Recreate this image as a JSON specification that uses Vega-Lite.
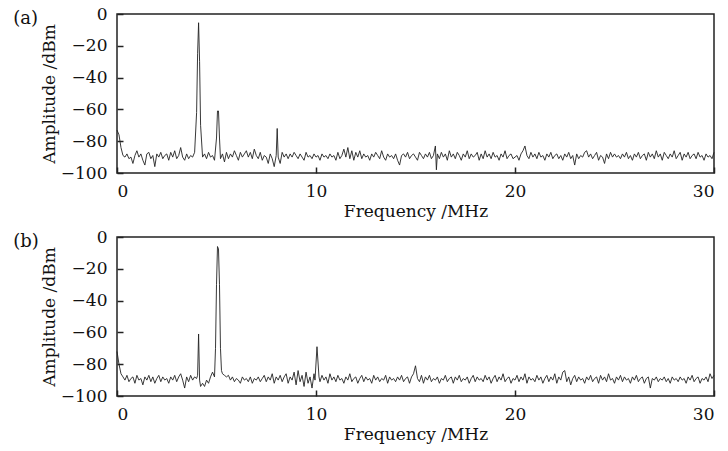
{
  "$schema": "https://vega.github.io/schema/vega-lite/v6.json",
  "background": "white",
  "padding": {"left": 12, "top": 4, "right": 5, "bottom": 5},
  "spacing": 7,
  "config": {
    "font": "DejaVu Serif",
    "view": {"stroke": "#222", "strokeWidth": 1.5},
    "axis": {
      "domain": false,
      "grid": false,
      "ticks": true,
      "tickSize": -6,
      "tickColor": "#222",
      "tickWidth": 1.5,
      "labelFont": "DejaVu Serif",
      "labelFontSize": 17,
      "labelColor": "#111",
      "titleFont": "DejaVu Serif",
      "titleFontSize": 17,
      "titleFontWeight": "normal",
      "titleColor": "#111"
    },
    "title": {"font": "DejaVu Serif", "fontSize": 18, "fontWeight": "normal", "color": "#111"}
  },
  "datasets": {
    "a": [
      {"f":0.0,"a":-73},{"f":0.1,"a":-76},{"f":0.2,"a":-84},{"f":0.3,"a":-89},{"f":0.4,"a":-90},{"f":0.5,"a":-88},{"f":0.6,"a":-91},{"f":0.7,"a":-90},{"f":0.8,"a":-94},{"f":0.9,"a":-89},
      {"f":1.0,"a":-86},{"f":1.1,"a":-90},{"f":1.2,"a":-88},{"f":1.3,"a":-92},{"f":1.4,"a":-95},{"f":1.5,"a":-88},{"f":1.6,"a":-87},{"f":1.7,"a":-91},{"f":1.8,"a":-89},{"f":1.9,"a":-96},
      {"f":2.0,"a":-88},{"f":2.1,"a":-90},{"f":2.2,"a":-87},{"f":2.3,"a":-91},{"f":2.4,"a":-89},{"f":2.5,"a":-88},{"f":2.6,"a":-92},{"f":2.7,"a":-87},{"f":2.8,"a":-90},{"f":2.9,"a":-86},
      {"f":3.0,"a":-91},{"f":3.1,"a":-89},{"f":3.2,"a":-84},{"f":3.3,"a":-90},{"f":3.4,"a":-92},{"f":3.5,"a":-88},{"f":3.6,"a":-91},{"f":3.7,"a":-89},{"f":3.8,"a":-90},{"f":3.9,"a":-87},
      {"f":4.0,"a":-62},{"f":4.05,"a":-25},{"f":4.1,"a":-5.5},{"f":4.15,"a":-30},{"f":4.2,"a":-70},{"f":4.3,"a":-90},{"f":4.4,"a":-88},{"f":4.5,"a":-91},{"f":4.6,"a":-87},{"f":4.7,"a":-90},{"f":4.8,"a":-89},{"f":4.9,"a":-92},
      {"f":5.0,"a":-78},{"f":5.05,"a":-61},{"f":5.1,"a":-61},{"f":5.15,"a":-78},{"f":5.2,"a":-91},{"f":5.3,"a":-88},{"f":5.4,"a":-93},{"f":5.5,"a":-87},{"f":5.6,"a":-91},{"f":5.7,"a":-88},{"f":5.8,"a":-90},{"f":5.9,"a":-86},
      {"f":6.0,"a":-89},{"f":6.1,"a":-92},{"f":6.2,"a":-87},{"f":6.3,"a":-90},{"f":6.4,"a":-88},{"f":6.5,"a":-86},{"f":6.6,"a":-90},{"f":6.7,"a":-87},{"f":6.8,"a":-91},{"f":6.9,"a":-85},
      {"f":7.0,"a":-89},{"f":7.1,"a":-91},{"f":7.2,"a":-87},{"f":7.3,"a":-92},{"f":7.4,"a":-89},{"f":7.5,"a":-90},{"f":7.6,"a":-94},{"f":7.7,"a":-88},{"f":7.8,"a":-91},{"f":7.9,"a":-96},
      {"f":8.0,"a":-89},{"f":8.05,"a":-72},{"f":8.1,"a":-90},{"f":8.2,"a":-94},{"f":8.3,"a":-87},{"f":8.4,"a":-90},{"f":8.5,"a":-88},{"f":8.6,"a":-91},{"f":8.7,"a":-88},{"f":8.8,"a":-90},{"f":8.9,"a":-87},
      {"f":9.0,"a":-89},{"f":9.1,"a":-91},{"f":9.2,"a":-88},{"f":9.3,"a":-90},{"f":9.4,"a":-92},{"f":9.5,"a":-87},{"f":9.6,"a":-90},{"f":9.7,"a":-89},{"f":9.8,"a":-91},{"f":9.9,"a":-88},
      {"f":10.0,"a":-90},{"f":10.1,"a":-89},{"f":10.2,"a":-92},{"f":10.3,"a":-88},{"f":10.4,"a":-90},{"f":10.5,"a":-89},{"f":10.6,"a":-91},{"f":10.7,"a":-88},{"f":10.8,"a":-90},{"f":10.9,"a":-89},
      {"f":11.0,"a":-92},{"f":11.1,"a":-87},{"f":11.2,"a":-91},{"f":11.3,"a":-89},{"f":11.4,"a":-85},{"f":11.5,"a":-90},{"f":11.6,"a":-84},{"f":11.7,"a":-91},{"f":11.8,"a":-86},{"f":11.9,"a":-92},
      {"f":12.0,"a":-87},{"f":12.1,"a":-90},{"f":12.2,"a":-86},{"f":12.3,"a":-91},{"f":12.4,"a":-88},{"f":12.5,"a":-90},{"f":12.6,"a":-89},{"f":12.7,"a":-92},{"f":12.8,"a":-88},{"f":12.9,"a":-90},
      {"f":13.0,"a":-87},{"f":13.1,"a":-89},{"f":13.2,"a":-91},{"f":13.3,"a":-86},{"f":13.4,"a":-90},{"f":13.5,"a":-92},{"f":13.6,"a":-88},{"f":13.7,"a":-90},{"f":13.8,"a":-89},{"f":13.9,"a":-91},
      {"f":14.0,"a":-88},{"f":14.1,"a":-92},{"f":14.2,"a":-95},{"f":14.3,"a":-89},{"f":14.4,"a":-88},{"f":14.5,"a":-90},{"f":14.6,"a":-87},{"f":14.7,"a":-91},{"f":14.8,"a":-89},{"f":14.9,"a":-88},
      {"f":15.0,"a":-90},{"f":15.1,"a":-92},{"f":15.2,"a":-87},{"f":15.3,"a":-89},{"f":15.4,"a":-91},{"f":15.5,"a":-88},{"f":15.6,"a":-90},{"f":15.7,"a":-87},{"f":15.8,"a":-91},{"f":15.9,"a":-89},
      {"f":16.0,"a":-83},{"f":16.05,"a":-98},{"f":16.1,"a":-88},{"f":16.2,"a":-91},{"f":16.3,"a":-87},{"f":16.4,"a":-90},{"f":16.5,"a":-88},{"f":16.6,"a":-92},{"f":16.7,"a":-86},{"f":16.8,"a":-90},{"f":16.9,"a":-88},
      {"f":17.0,"a":-91},{"f":17.1,"a":-87},{"f":17.2,"a":-89},{"f":17.3,"a":-92},{"f":17.4,"a":-88},{"f":17.5,"a":-90},{"f":17.6,"a":-86},{"f":17.7,"a":-91},{"f":17.8,"a":-88},{"f":17.9,"a":-90},
      {"f":18.0,"a":-89},{"f":18.1,"a":-87},{"f":18.2,"a":-92},{"f":18.3,"a":-88},{"f":18.4,"a":-91},{"f":18.5,"a":-86},{"f":18.6,"a":-90},{"f":18.7,"a":-88},{"f":18.8,"a":-91},{"f":18.9,"a":-87},
      {"f":19.0,"a":-90},{"f":19.1,"a":-89},{"f":19.2,"a":-92},{"f":19.3,"a":-88},{"f":19.4,"a":-90},{"f":19.5,"a":-86},{"f":19.6,"a":-91},{"f":19.7,"a":-89},{"f":19.8,"a":-88},{"f":19.9,"a":-91},
      {"f":20.0,"a":-90},{"f":20.1,"a":-89},{"f":20.2,"a":-92},{"f":20.3,"a":-88},{"f":20.4,"a":-86},{"f":20.5,"a":-83},{"f":20.6,"a":-89},{"f":20.7,"a":-91},{"f":20.8,"a":-87},{"f":20.9,"a":-90},
      {"f":21.0,"a":-88},{"f":21.1,"a":-91},{"f":21.2,"a":-87},{"f":21.3,"a":-90},{"f":21.4,"a":-89},{"f":21.5,"a":-92},{"f":21.6,"a":-88},{"f":21.7,"a":-90},{"f":21.8,"a":-87},{"f":21.9,"a":-91},
      {"f":22.0,"a":-89},{"f":22.1,"a":-88},{"f":22.2,"a":-91},{"f":22.3,"a":-89},{"f":22.4,"a":-92},{"f":22.5,"a":-88},{"f":22.6,"a":-90},{"f":22.7,"a":-87},{"f":22.8,"a":-91},{"f":22.9,"a":-89},
      {"f":23.0,"a":-95},{"f":23.1,"a":-88},{"f":23.2,"a":-91},{"f":23.3,"a":-89},{"f":23.4,"a":-90},{"f":23.5,"a":-87},{"f":23.6,"a":-86},{"f":23.7,"a":-90},{"f":23.8,"a":-88},{"f":23.9,"a":-91},
      {"f":24.0,"a":-89},{"f":24.1,"a":-87},{"f":24.2,"a":-92},{"f":24.3,"a":-89},{"f":24.4,"a":-90},{"f":24.5,"a":-94},{"f":24.6,"a":-88},{"f":24.7,"a":-91},{"f":24.8,"a":-87},{"f":24.9,"a":-90},
      {"f":25.0,"a":-88},{"f":25.1,"a":-90},{"f":25.2,"a":-89},{"f":25.3,"a":-91},{"f":25.4,"a":-88},{"f":25.5,"a":-90},{"f":25.6,"a":-87},{"f":25.7,"a":-91},{"f":25.8,"a":-89},{"f":25.9,"a":-92},
      {"f":26.0,"a":-88},{"f":26.1,"a":-90},{"f":26.2,"a":-87},{"f":26.3,"a":-91},{"f":26.4,"a":-89},{"f":26.5,"a":-88},{"f":26.6,"a":-92},{"f":26.7,"a":-87},{"f":26.8,"a":-90},{"f":26.9,"a":-88},
      {"f":27.0,"a":-91},{"f":27.1,"a":-86},{"f":27.2,"a":-90},{"f":27.3,"a":-88},{"f":27.4,"a":-92},{"f":27.5,"a":-87},{"f":27.6,"a":-89},{"f":27.7,"a":-91},{"f":27.8,"a":-88},{"f":27.9,"a":-90},
      {"f":28.0,"a":-86},{"f":28.1,"a":-91},{"f":28.2,"a":-89},{"f":28.3,"a":-87},{"f":28.4,"a":-92},{"f":28.5,"a":-88},{"f":28.6,"a":-90},{"f":28.7,"a":-87},{"f":28.8,"a":-91},{"f":28.9,"a":-89},
      {"f":29.0,"a":-88},{"f":29.1,"a":-91},{"f":29.2,"a":-87},{"f":29.3,"a":-90},{"f":29.4,"a":-89},{"f":29.5,"a":-92},{"f":29.6,"a":-88},{"f":29.7,"a":-90},{"f":29.8,"a":-89},{"f":29.9,"a":-91},
      {"f":30.0,"a":-87}
    ],
    "b": [
      {"f":0.0,"a":-72},{"f":0.1,"a":-80},{"f":0.2,"a":-86},{"f":0.3,"a":-88},{"f":0.4,"a":-90},{"f":0.5,"a":-87},{"f":0.6,"a":-91},{"f":0.7,"a":-89},{"f":0.8,"a":-88},{"f":0.9,"a":-92},
      {"f":1.0,"a":-87},{"f":1.1,"a":-90},{"f":1.2,"a":-89},{"f":1.3,"a":-93},{"f":1.4,"a":-88},{"f":1.5,"a":-90},{"f":1.6,"a":-87},{"f":1.7,"a":-91},{"f":1.8,"a":-88},{"f":1.9,"a":-92},
      {"f":2.0,"a":-89},{"f":2.1,"a":-87},{"f":2.2,"a":-91},{"f":2.3,"a":-88},{"f":2.4,"a":-90},{"f":2.5,"a":-89},{"f":2.6,"a":-92},{"f":2.7,"a":-88},{"f":2.8,"a":-90},{"f":2.9,"a":-87},
      {"f":3.0,"a":-91},{"f":3.1,"a":-88},{"f":3.2,"a":-86},{"f":3.3,"a":-90},{"f":3.4,"a":-95},{"f":3.5,"a":-88},{"f":3.6,"a":-91},{"f":3.7,"a":-87},{"f":3.8,"a":-90},{"f":3.9,"a":-88},
      {"f":4.0,"a":-89},{"f":4.05,"a":-87},{"f":4.1,"a":-61},{"f":4.15,"a":-90},{"f":4.2,"a":-94},{"f":4.3,"a":-92},{"f":4.4,"a":-94},{"f":4.5,"a":-90},{"f":4.6,"a":-92},{"f":4.7,"a":-88},{"f":4.8,"a":-85},{"f":4.9,"a":-88},
      {"f":4.95,"a":-70},{"f":5.0,"a":-30},{"f":5.05,"a":-6},{"f":5.1,"a":-7.5},{"f":5.15,"a":-30},{"f":5.2,"a":-70},{"f":5.25,"a":-84},{"f":5.3,"a":-86},{"f":5.4,"a":-87},{"f":5.5,"a":-88},{"f":5.6,"a":-87},{"f":5.7,"a":-90},{"f":5.8,"a":-88},{"f":5.9,"a":-91},
      {"f":6.0,"a":-89},{"f":6.1,"a":-90},{"f":6.2,"a":-92},{"f":6.3,"a":-88},{"f":6.4,"a":-90},{"f":6.5,"a":-89},{"f":6.6,"a":-91},{"f":6.7,"a":-88},{"f":6.8,"a":-92},{"f":6.9,"a":-89},
      {"f":7.0,"a":-90},{"f":7.1,"a":-88},{"f":7.2,"a":-91},{"f":7.3,"a":-89},{"f":7.4,"a":-87},{"f":7.5,"a":-91},{"f":7.6,"a":-88},{"f":7.7,"a":-90},{"f":7.8,"a":-86},{"f":7.9,"a":-92},
      {"f":8.0,"a":-88},{"f":8.1,"a":-90},{"f":8.2,"a":-87},{"f":8.3,"a":-91},{"f":8.4,"a":-88},{"f":8.5,"a":-86},{"f":8.6,"a":-92},{"f":8.7,"a":-88},{"f":8.8,"a":-90},{"f":8.9,"a":-85},
      {"f":9.0,"a":-93},{"f":9.1,"a":-84},{"f":9.2,"a":-91},{"f":9.3,"a":-87},{"f":9.4,"a":-94},{"f":9.5,"a":-85},{"f":9.6,"a":-92},{"f":9.7,"a":-88},{"f":9.8,"a":-95},{"f":9.9,"a":-86},
      {"f":9.95,"a":-90},{"f":10.05,"a":-69},{"f":10.15,"a":-88},{"f":10.2,"a":-91},{"f":10.3,"a":-87},{"f":10.4,"a":-90},{"f":10.5,"a":-88},{"f":10.6,"a":-92},{"f":10.7,"a":-86},{"f":10.8,"a":-90},{"f":10.9,"a":-88},
      {"f":11.0,"a":-91},{"f":11.1,"a":-87},{"f":11.2,"a":-90},{"f":11.3,"a":-89},{"f":11.4,"a":-92},{"f":11.5,"a":-88},{"f":11.6,"a":-90},{"f":11.7,"a":-86},{"f":11.8,"a":-91},{"f":11.9,"a":-89},
      {"f":12.0,"a":-88},{"f":12.1,"a":-92},{"f":12.2,"a":-89},{"f":12.3,"a":-87},{"f":12.4,"a":-91},{"f":12.5,"a":-88},{"f":12.6,"a":-90},{"f":12.7,"a":-89},{"f":12.8,"a":-92},{"f":12.9,"a":-87},
      {"f":13.0,"a":-90},{"f":13.1,"a":-88},{"f":13.2,"a":-91},{"f":13.3,"a":-89},{"f":13.4,"a":-90},{"f":13.5,"a":-87},{"f":13.6,"a":-92},{"f":13.7,"a":-88},{"f":13.8,"a":-90},{"f":13.9,"a":-89},
      {"f":14.0,"a":-91},{"f":14.1,"a":-88},{"f":14.2,"a":-90},{"f":14.3,"a":-87},{"f":14.4,"a":-91},{"f":14.5,"a":-89},{"f":14.6,"a":-88},{"f":14.7,"a":-92},{"f":14.8,"a":-88},{"f":14.9,"a":-86},
      {"f":15.0,"a":-81},{"f":15.1,"a":-89},{"f":15.2,"a":-91},{"f":15.3,"a":-87},{"f":15.4,"a":-92},{"f":15.5,"a":-88},{"f":15.6,"a":-90},{"f":15.7,"a":-87},{"f":15.8,"a":-91},{"f":15.9,"a":-89},
      {"f":16.0,"a":-90},{"f":16.1,"a":-88},{"f":16.2,"a":-92},{"f":16.3,"a":-89},{"f":16.4,"a":-90},{"f":16.5,"a":-87},{"f":16.6,"a":-91},{"f":16.7,"a":-89},{"f":16.8,"a":-88},{"f":16.9,"a":-92},
      {"f":17.0,"a":-88},{"f":17.1,"a":-90},{"f":17.2,"a":-87},{"f":17.3,"a":-91},{"f":17.4,"a":-89},{"f":17.5,"a":-90},{"f":17.6,"a":-88},{"f":17.7,"a":-92},{"f":17.8,"a":-89},{"f":17.9,"a":-87},
      {"f":18.0,"a":-91},{"f":18.1,"a":-88},{"f":18.2,"a":-90},{"f":18.3,"a":-89},{"f":18.4,"a":-91},{"f":18.5,"a":-87},{"f":18.6,"a":-90},{"f":18.7,"a":-88},{"f":18.8,"a":-92},{"f":18.9,"a":-89},
      {"f":19.0,"a":-87},{"f":19.1,"a":-91},{"f":19.2,"a":-88},{"f":19.3,"a":-90},{"f":19.4,"a":-86},{"f":19.5,"a":-91},{"f":19.6,"a":-89},{"f":19.7,"a":-88},{"f":19.8,"a":-92},{"f":19.9,"a":-89},
      {"f":20.0,"a":-90},{"f":20.1,"a":-87},{"f":20.2,"a":-91},{"f":20.3,"a":-88},{"f":20.4,"a":-90},{"f":20.5,"a":-86},{"f":20.6,"a":-92},{"f":20.7,"a":-88},{"f":20.8,"a":-90},{"f":20.9,"a":-89},
      {"f":21.0,"a":-91},{"f":21.1,"a":-87},{"f":21.2,"a":-90},{"f":21.3,"a":-88},{"f":21.4,"a":-92},{"f":21.5,"a":-89},{"f":21.6,"a":-87},{"f":21.7,"a":-91},{"f":21.8,"a":-88},{"f":21.9,"a":-90},
      {"f":22.0,"a":-86},{"f":22.1,"a":-92},{"f":22.2,"a":-88},{"f":22.3,"a":-90},{"f":22.4,"a":-85},{"f":22.5,"a":-84},{"f":22.6,"a":-91},{"f":22.7,"a":-88},{"f":22.8,"a":-93},{"f":22.9,"a":-89},
      {"f":23.0,"a":-87},{"f":23.1,"a":-91},{"f":23.2,"a":-88},{"f":23.3,"a":-90},{"f":23.4,"a":-89},{"f":23.5,"a":-92},{"f":23.6,"a":-88},{"f":23.7,"a":-90},{"f":23.8,"a":-87},{"f":23.9,"a":-91},
      {"f":24.0,"a":-89},{"f":24.1,"a":-88},{"f":24.2,"a":-92},{"f":24.3,"a":-87},{"f":24.4,"a":-90},{"f":24.5,"a":-88},{"f":24.6,"a":-91},{"f":24.7,"a":-86},{"f":24.8,"a":-90},{"f":24.9,"a":-89},
      {"f":25.0,"a":-92},{"f":25.1,"a":-88},{"f":25.2,"a":-90},{"f":25.3,"a":-87},{"f":25.4,"a":-91},{"f":25.5,"a":-88},{"f":25.6,"a":-90},{"f":25.7,"a":-89},{"f":25.8,"a":-92},{"f":25.9,"a":-88},
      {"f":26.0,"a":-90},{"f":26.1,"a":-87},{"f":26.2,"a":-91},{"f":26.3,"a":-89},{"f":26.4,"a":-88},{"f":26.5,"a":-92},{"f":26.6,"a":-89},{"f":26.7,"a":-88},{"f":26.8,"a":-95},{"f":26.9,"a":-89},
      {"f":27.0,"a":-90},{"f":27.1,"a":-88},{"f":27.2,"a":-91},{"f":27.3,"a":-89},{"f":27.4,"a":-90},{"f":27.5,"a":-88},{"f":27.6,"a":-91},{"f":27.7,"a":-89},{"f":27.8,"a":-92},{"f":27.9,"a":-88},
      {"f":28.0,"a":-90},{"f":28.1,"a":-89},{"f":28.2,"a":-91},{"f":28.3,"a":-88},{"f":28.4,"a":-90},{"f":28.5,"a":-89},{"f":28.6,"a":-92},{"f":28.7,"a":-88},{"f":28.8,"a":-90},{"f":28.9,"a":-87},
      {"f":29.0,"a":-91},{"f":29.1,"a":-89},{"f":29.2,"a":-88},{"f":29.3,"a":-92},{"f":29.4,"a":-89},{"f":29.5,"a":-90},{"f":29.6,"a":-88},{"f":29.7,"a":-91},{"f":29.8,"a":-86},{"f":29.9,"a":-89},
      {"f":30.0,"a":-87}
    ]
  },
  "vconcat": [
    {
      "width": 597,
      "height": 159,
      "data": {"name": "a"},
      "title": {"text": "(a)", "anchor": "start", "frame": "bounds", "orient": "top", "dx": -27, "dy": 23, "offset": 0},
      "mark": {"type": "line", "color": "#222", "strokeWidth": 0.9},
      "encoding": {
        "x": {"field": "f", "type": "quantitative", "scale": {"domain": [0, 30]},
              "axis": {"title": "Frequency /MHz", "values": [0, 10, 20, 30], "labelPadding": 16, "titlePadding": 4}},
        "y": {"field": "a", "type": "quantitative", "scale": {"domain": [-100, 0]},
              "axis": {"title": "Amplitude /dBm", "values": [-100, -80, -60, -40, -20, 0], "labelPadding": 16, "titlePadding": 2}}
      }
    },
    {
      "width": 597,
      "height": 159,
      "data": {"name": "b"},
      "title": {"text": "(b)", "anchor": "start", "frame": "bounds", "orient": "top", "dx": -27, "dy": 23, "offset": 0},
      "mark": {"type": "line", "color": "#222", "strokeWidth": 0.9},
      "encoding": {
        "x": {"field": "f", "type": "quantitative", "scale": {"domain": [0, 30]},
              "axis": {"title": "Frequency /MHz", "values": [0, 10, 20, 30], "labelPadding": 16, "titlePadding": 4}},
        "y": {"field": "a", "type": "quantitative", "scale": {"domain": [-100, 0]},
              "axis": {"title": "Amplitude /dBm", "values": [-100, -80, -60, -40, -20, 0], "labelPadding": 16, "titlePadding": 2}}
      }
    }
  ]
}
